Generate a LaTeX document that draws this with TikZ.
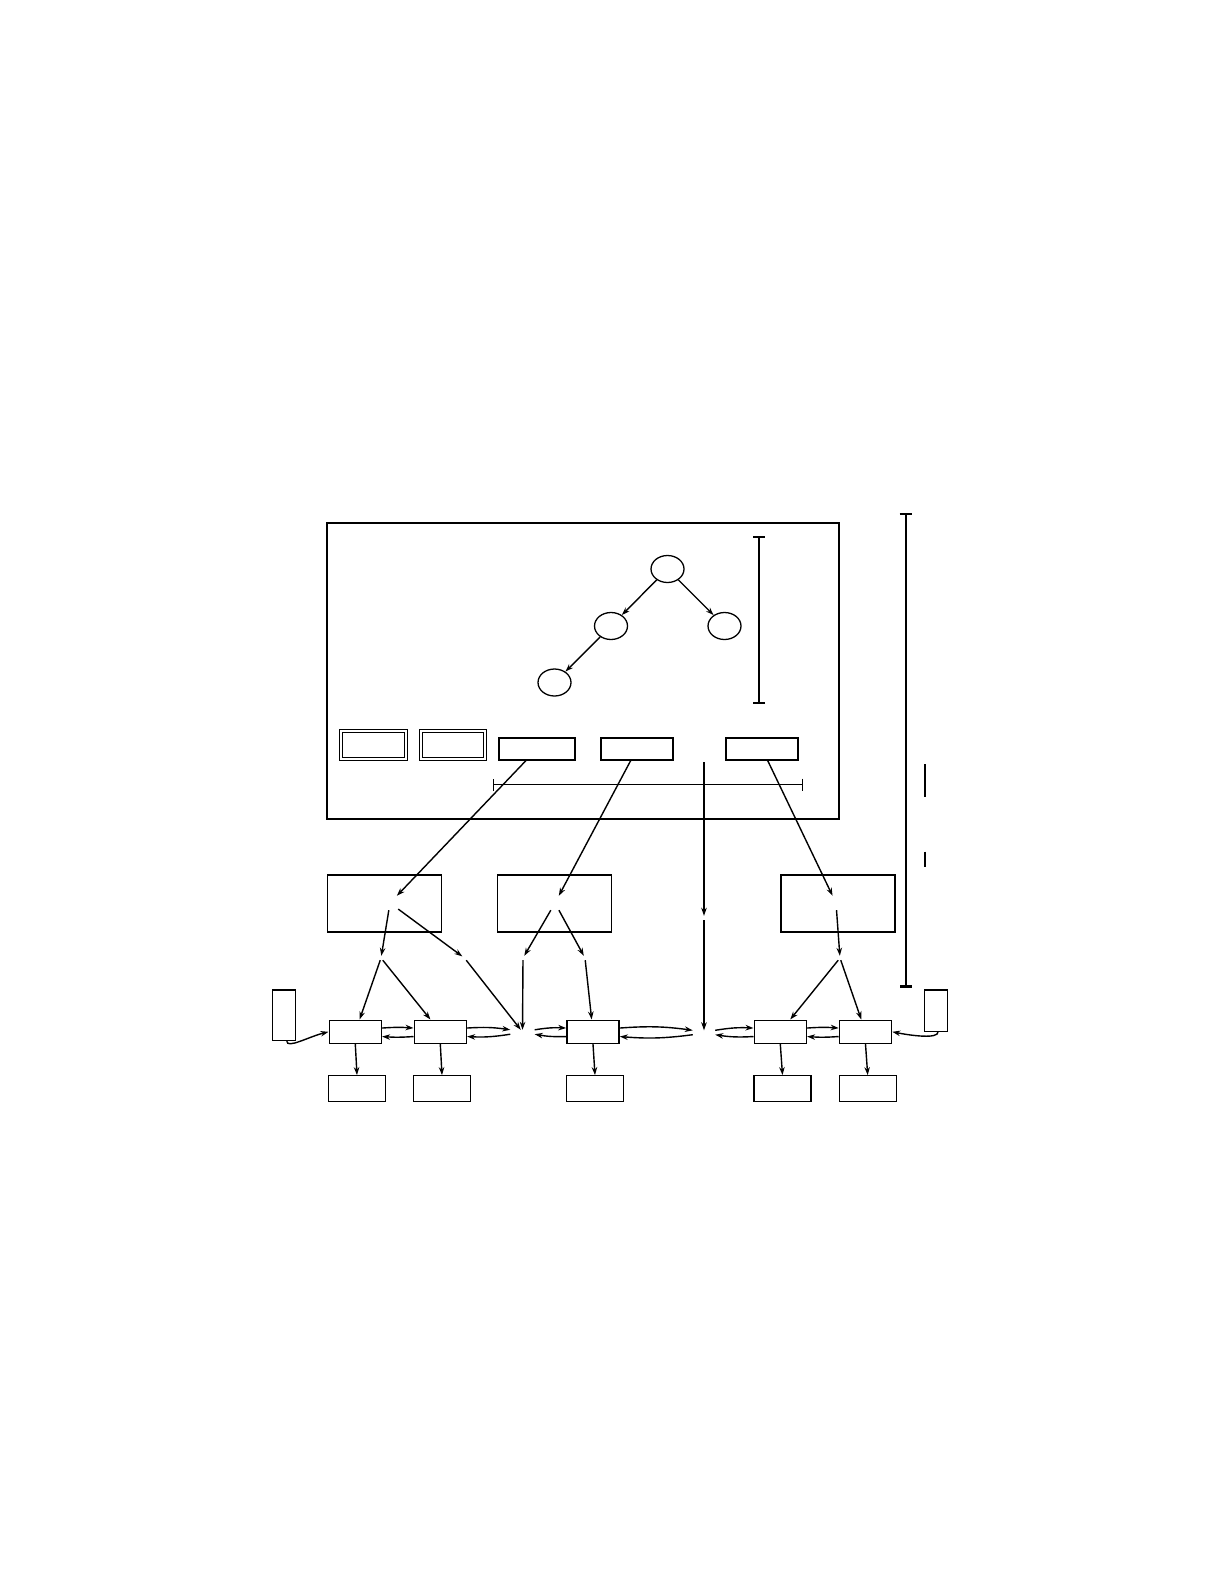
\documentclass[tikz,border=0pt]{standalone}
\usetikzlibrary{arrows.meta, shapes.geometric}
\begin{document}
\begin{tikzpicture}[x = 1pt, y = -1pt, >={Stealth[length = 8pt, width = 5.5pt]},
	knot/.style = {ellipse, draw, line width = 1.3pt, minimum width = 33pt, minimum height = 27pt, inner sep = 0},
	unit/.style = {rectangle, draw, line width = 1.4pt, inner sep = 0},
	blank/.style = {inner sep = 0, minimum width = #1, minimum height = 4pt},
	blank/.default = 4pt,
	link/.style = {->, line width = 1.4pt},
	span/.style = {{Bar[width = 12pt]}-{Bar[width = 12pt]}}]
\useasboundingbox (0, 0) rectangle (1225, 1585);
% outer frame and tree
\node [unit, line width = 2pt, minimum width = 512pt, minimum height = 296pt] (frame) at (582.5, 670.5) {};
\foreach \n/\x/\y in {t0/667.5/569, t1/611/626, t2/724.5/626, t3/554.5/682.5}
	\node [knot] (\n) at (\x, \y) {};
\draw [link] (t0) -- (t1);
\draw [link] (t0) -- (t2);
\draw [link] (t1) -- (t3);
\draw [span, line width = 1.8pt] (759, 536) -- (759, 704);
% row of boxes inside the frame
\foreach \n/\x in {s1/373.5, s2/452.8}
	\node [unit, line width = 1.1pt, double, double distance = 2pt, minimum width = 64.4pt, minimum height = 28.3pt] (\n) at (\x, 745) {};
\foreach \n/\x/\w in {b3/537.3/76, b4/637/71.4, b5/762/71.4}
	\node [unit, line width = 2pt, minimum width = \w pt, minimum height = 22pt] (\n) at (\x, 748.7) {};
\draw [span, line width = 1.1pt] (492.7, 784.7) -- (803, 784.7);
% middle boxes
\foreach \n/\x in {A/384.5, B/554.5, C/838}
	\node [unit, line width = 1.6pt, minimum width = 114pt, minimum height = 57pt] (\n) at (\x, 903.5) {};
\foreach \n/\x in {pA/390, pB/555, pC/836}
	\node [blank = 16pt, minimum height = 14pt] (\n) at (\x, 903) {};
\node [blank] (pV) at (704, 918) {};
\foreach \n/\x in {qA1/381, qA2/464.5, qB1/523, qB2/585, qC/840}
	\node [blank] (\n) at (\x, 958) {};
\node [blank = 24pt] (X) at (522.5, 1032) {};
\node [blank = 22pt] (Y) at (704, 1032.5) {};
% lower rows
\foreach \i/\x/\y in {1/355.3/357, 2/440.3/442, 3/593/595, 4/780.3/782.5, 5/865.5/867.7}{
	\node [unit, line width = 1.6pt, minimum width = 52pt, minimum height = 23pt] (D\i) at (\x, 1031.8) {};
	\node [unit, line width = 1.3pt, minimum width = 57pt, minimum height = 25.5pt] (E\i) at (\y, 1088.5) {};
	\draw [link] (D\i.south) -- (E\i.north);
};
\node [unit, line width = 1.3pt, minimum width = 23pt, minimum height = 50.5pt] (L) at (283.8, 1015.2) {};
\node [unit, line width = 1.3pt, minimum width = 23.5pt, minimum height = 41.5pt] (R) at (936, 1010.6) {};
\draw [span, line width = 2.3pt] (905.7, 513) -- (905.7, 987.7);
\draw [line width = 2.5pt] (925, 764) -- (925, 797.3);
\draw [line width = 2.5pt] (925, 851.7) -- (925, 866.7);
% connectors
\draw [link] (b3) -- (pA);
\draw [link] (b4) -- (pB);
\draw [link] (b5) -- (pC);
\coordinate (vtop) at (704, 762);
\draw [link, line width = 1.7pt] (vtop) -- (pV);
\draw [link, line width = 1.7pt] (pV) -- (Y);
\draw [link] (pA) -- (qA1);
\draw [link] (pA) -- (qA2);
\draw [link] (pB) -- (qB1);
\draw [link] (pB) -- (qB2);
\draw [link] (pC) -- (qC);
\draw [link] (qA1) -- (D1);
\draw [link] (qA1) -- (D2);
\draw [link] (qA2) -- (X);
\draw [link] (qB1) -- (X);
\draw [link] (qB2) -- (D3);
\draw [link] (qC) -- (D4);
\draw [link] (qC) -- (D5);
\foreach \a/\b in {D1/D2, D4/D5}{
	\draw [link] (\a.8) to [bend left = 4] (\b.172);
	\draw [link] (\b.-170) to [bend left = 4] (\a.-10);
};
\draw [link] (D2.8) to [bend left = 6] (X.north west);
\draw [link] (X.south west) to [bend left = 6] (D2.-10);
\draw [link] (X.north east) to [bend left = 6] (D3.172);
\draw [link] (D3.-170) to [bend left = 6] (X.south east);
\draw [link] (D3.8) to [bend left = 6] (Y.north west);
\draw [link] (Y.south west) to [bend left = 6] (D3.-10);
\draw [link] (Y.north east) to [bend left = 6] (D4.172);
\draw [link] (D4.-170) to [bend left = 6] (Y.south east);
\draw [link] ([xshift = 3pt]L.south) .. controls +(0, 8) and +(-20, 5) .. (D1.west);
\draw [link] ([xshift = 2pt]R.south) .. controls +(0, 7) and +(20, 4) .. (D5.east);
\end{tikzpicture}
\end{document}
